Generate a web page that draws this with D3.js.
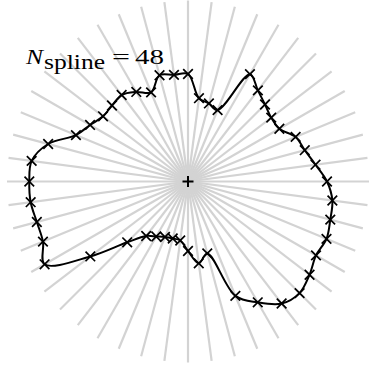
<!DOCTYPE html>
<html>
<head>
<meta charset="utf-8">
<script src="https://cdn.jsdelivr.net/npm/d3@7"></script>
<style>
html,body{margin:0;padding:0;background:#fff;}
svg{display:block;}
.lbl{font-family:"Liberation Serif","Times New Roman",serif;}
</style>
</head>
<body>
<svg id="chart" width="371" height="368"></svg>
<script>
// Ray angles (degrees, counter-clockwise from east)
const angles = d3.range(0, 360, 7.5);
// Radius of the spline node on each ray (same order as angles)
const radii = [
  139, 128.6, 120.9, 116.5, 105.5, 104.9, 108.9, 114.8,
  123.9, 77.3, 80.8, 84, 107.5, 107.5, 110, 96.5,
  103.4, 109, 107.5, 107.1, 113.1, 121.3, 144.8, 157.7,
  158.7, 158.7, 156.5, 157, 165.6, 123.1, 86, 68.7,
  63.5, 60.1, 59, 59.5, 69.5, 82.5, 74.5, 123.8,
  139.5, 153.8, 157.8, 153.2, 147.8, 149.9, 147.3, 145.6
];
const rayLength = 181;
const label = {main: "N", sub: "spline", eq: "=", value: "48"};

const svg = d3.select("#chart");
const cx = 188, cy = 181.5;
const rScale = d3.scaleLinear().domain([0, rayLength]).range([0, rayLength]);
const aScale = d3.scaleLinear().domain([0, 360]).range([0, 2 * Math.PI]);
const px = (a, r) => cx + rScale(r) * Math.cos(aScale(a));
const py = (a, r) => cy - rScale(r) * Math.sin(aScale(a));

// rays
svg.append("g").selectAll("line").data(angles).join("line")
  .attr("x1", cx).attr("y1", cy)
  .attr("x2", a => px(a, rayLength)).attr("y2", a => py(a, rayLength))
  .attr("stroke", "#d3d3d3").attr("stroke-width", 2.2);

const pts = angles.map((a, i) => [px(a, radii[i]), py(a, radii[i])]);

// spline
svg.append("path")
  .attr("d", d3.line().curve(d3.curveCatmullRomClosed.alpha(0.5))(pts))
  .attr("fill", "none").attr("stroke", "#000").attr("stroke-width", 2);

// markers
const s = 4.8;
svg.append("g").selectAll("path").data(pts).join("path")
  .attr("d", d => `M${d[0]-s},${d[1]-s}L${d[0]+s},${d[1]+s}M${d[0]-s},${d[1]+s}L${d[0]+s},${d[1]-s}`)
  .attr("stroke", "#000").attr("stroke-width", 1.7).attr("fill", "none");

// center plus
const c = 5.5;
svg.append("path")
  .attr("d", `M${cx-c},${cy}L${cx+c},${cy}M${cx},${cy-c}L${cx},${cy+c}`)
  .attr("stroke", "#000").attr("stroke-width", 2);

// label
svg.append("text").attr("class", "lbl").attr("x", 26).attr("y", 64)
  .attr("font-style", "italic").attr("font-size", 22)
  .attr("textLength", 17).attr("lengthAdjust", "spacingAndGlyphs")
  .text(label.main);
svg.append("text").attr("class", "lbl").attr("x", 44).attr("y", 69)
  .attr("font-size", 21)
  .attr("textLength", 61).attr("lengthAdjust", "spacingAndGlyphs")
  .text(label.sub);
svg.append("text").attr("class", "lbl").attr("x", 112).attr("y", 64)
  .attr("font-size", 22)
  .attr("textLength", 18).attr("lengthAdjust", "spacingAndGlyphs")
  .text(label.eq);
svg.append("text").attr("class", "lbl").attr("x", 135).attr("y", 64)
  .attr("font-size", 22)
  .attr("textLength", 29).attr("lengthAdjust", "spacingAndGlyphs")
  .text(label.value);
</script>
</body>
</html>
